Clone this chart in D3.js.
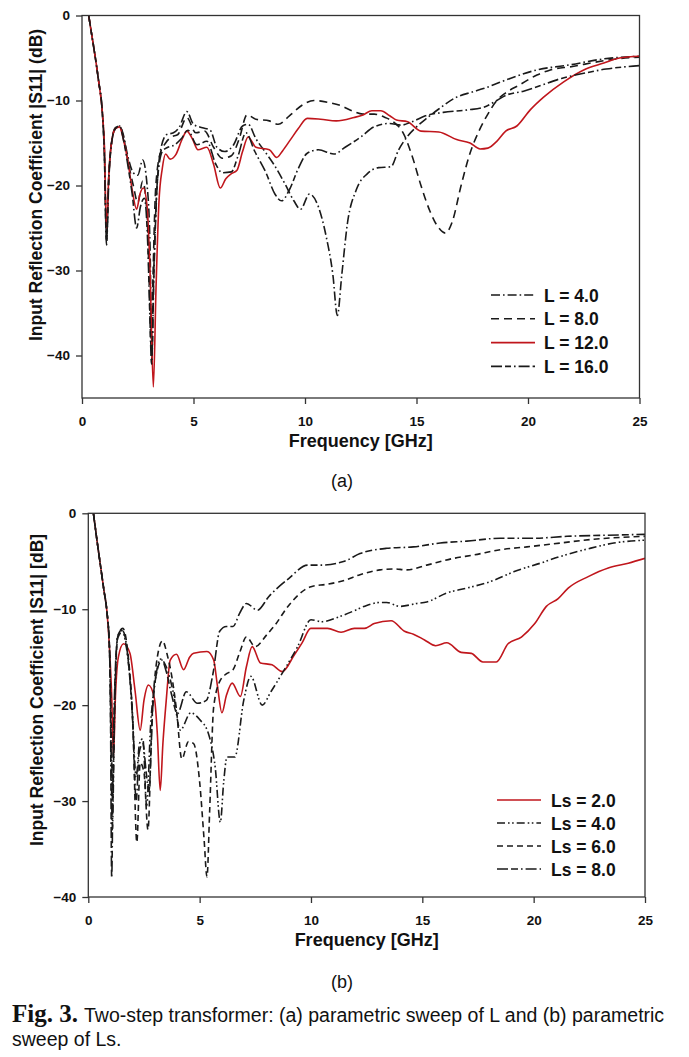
<!DOCTYPE html>
<html>
<head>
<meta charset="utf-8">
<script src="https://cdn.jsdelivr.net/npm/d3@7"></script>
<style>
  body { margin: 0; background: #fff; }
  text { font-family: "Liberation Sans", Arial, sans-serif; }
</style>
</head>
<body>
<div id="chart"></div>
<script>
const WIDTH = 689;
const HEIGHT = 1057;

// ---- data: [frequency GHz, |S11| dB] ----
const FREQ_TICKS = [0, 5, 10, 15, 20, 25];
const DB_TICKS = [0, -10, -20, -30, -40];

const L4 = [[0.3,0],[0.45,-2.5],[0.6,-5],[0.75,-7.8],[0.9,-11],[1.0,-16],[1.1,-26.5],[1.2,-19],[1.35,-14.5],[1.5,-13.2],[1.68,-13.0],[1.85,-14],[2.05,-16.5],[2.3,-18.5],[2.5,-18.8],[2.72,-17.0],[2.92,-20],[3.05,-27],[3.13,-40.5],[3.22,-31],[3.35,-21],[3.55,-15.5],[3.8,-14],[4.1,-13.8],[4.35,-13.2],[4.7,-11.3],[5.0,-12.8],[5.4,-13.2],[5.75,-13.5],[6.05,-15.5],[6.4,-16],[6.8,-15.2],[7.2,-13],[7.45,-12.8],[7.8,-14.5],[8.2,-16],[8.6,-17.5],[9.1,-19.8],[9.5,-21.8],[9.8,-22.8],[10.2,-21],[10.6,-22.5],[10.95,-26],[11.25,-30.5],[11.45,-35.3],[11.65,-30.5],[11.9,-24.5],[12.3,-20.5],[12.8,-18.6],[13.3,-17.9],[13.85,-17.8],[14.2,-15.8],[14.6,-14.2],[15.0,-13.1],[15.5,-12],[16.0,-11.0],[16.8,-9.6],[17.5,-9.0],[18.0,-8.6],[19.2,-7.4],[20.4,-6.4],[21.9,-5.8],[23.4,-5.1],[25,-4.8]];

const L8 = [[0.3,0],[0.45,-2.5],[0.6,-5],[0.75,-7.8],[0.9,-11],[1.0,-15.5],[1.1,-26],[1.2,-19],[1.35,-14.5],[1.5,-13.3],[1.68,-13.0],[1.85,-14.2],[2.05,-17],[2.3,-20],[2.5,-22],[2.72,-19.5],[2.92,-23.5],[3.02,-32],[3.1,-39],[3.18,-31],[3.3,-20.5],[3.5,-16.3],[3.75,-15],[4.0,-14.3],[4.3,-14.0],[4.7,-12.0],[5.1,-13.8],[5.5,-13.6],[5.9,-15.5],[6.3,-16.8],[6.7,-16.5],[7.05,-14.5],[7.4,-11.7],[7.8,-12.2],[8.4,-12.4],[8.8,-12.8],[9.3,-11.8],[9.9,-10.5],[10.4,-10.0],[11.0,-10.2],[11.6,-10.6],[12.1,-11.2],[12.6,-11.6],[13.1,-11.6],[13.6,-12.0],[14.0,-12.6],[14.4,-13.8],[14.8,-16.5],[15.2,-20.0],[15.6,-23.0],[16.0,-25.0],[16.3,-25.6],[16.6,-24.3],[17.0,-20.0],[17.4,-16.2],[17.8,-13.6],[18.2,-11.6],[18.6,-10.0],[19.0,-9.1],[19.6,-8.2],[20.4,-7.0],[21.0,-6.4],[22,-6.0],[23,-5.5],[24,-5.1],[25,-4.9]];

const L12 = [[0.3,0],[0.45,-2.5],[0.6,-5],[0.75,-7.8],[0.9,-11],[1.0,-15],[1.1,-25],[1.2,-19],[1.35,-14.5],[1.5,-13.3],[1.68,-13.1],[1.85,-14.5],[2.05,-17],[2.25,-20.5],[2.45,-22.8],[2.6,-21],[2.75,-20.3],[2.92,-22.5],[3.05,-30],[3.2,-43.7],[3.32,-32],[3.45,-22],[3.6,-18],[3.75,-16.3],[3.95,-16.9],[4.2,-16.4],[4.5,-14.5],[4.7,-13.6],[4.95,-14.5],[5.2,-15.8],[5.6,-15.5],[5.9,-17.5],[6.2,-20.3],[6.45,-19.2],[6.7,-18.6],[6.95,-18.2],[7.2,-16],[7.45,-14.3],[7.8,-15.5],[8.4,-15.8],[8.73,-16.7],[9.0,-15.9],[9.35,-14.6],[9.7,-13.3],[10.1,-12.1],[10.7,-12.2],[11.4,-12.4],[12.2,-12.0],[12.6,-11.7],[13.0,-11.2],[13.4,-11.2],[13.8,-11.8],[14.1,-12.3],[14.6,-12.5],[15.2,-13.6],[16.0,-13.7],[16.8,-14.6],[17.4,-15.0],[17.85,-15.7],[18.2,-15.6],[18.6,-14.8],[19.0,-13.6],[19.5,-13.0],[20.1,-11.1],[20.7,-9.6],[21.6,-7.8],[22.5,-6.4],[23.4,-5.6],[24.1,-5.0],[25,-4.8]];

const L16 = [[0.3,0],[0.45,-2.5],[0.6,-5],[0.75,-7.8],[0.9,-11],[1.0,-16],[1.1,-27],[1.2,-19.5],[1.35,-14.6],[1.5,-13.3],[1.68,-13.0],[1.85,-14.5],[2.05,-17.5],[2.25,-21],[2.45,-25],[2.62,-22.5],[2.8,-21.5],[2.95,-27],[3.05,-36],[3.12,-41],[3.22,-30],[3.38,-19.5],[3.6,-16],[3.85,-15.5],[4.1,-15.3],[4.45,-14.5],[4.75,-13.5],[5.15,-15.2],[5.6,-14.8],[6.0,-17.5],[6.3,-18.5],[6.7,-18.4],[7.0,-16.5],[7.35,-13.8],[7.75,-16],[8.25,-18.5],[8.65,-21],[8.95,-21.8],[9.3,-20.5],[9.7,-18],[10.1,-16.2],[10.6,-15.8],[11.3,-16.3],[11.8,-15.5],[12.5,-14.3],[13.1,-13.1],[13.8,-12.7],[14.3,-12.9],[14.8,-12.5],[15.4,-11.8],[16.2,-11.4],[17.3,-11.1],[18.0,-10.8],[18.6,-10.0],[19.0,-9.4],[19.8,-8.9],[20.5,-8.3],[21.5,-7.4],[22.5,-6.8],[23.5,-6.3],[24.5,-6.0],[25,-5.9]];

const LS2 = [[0.23,0],[0.4,-3],[0.55,-5.5],[0.7,-8],[0.83,-10.1],[0.95,-14],[1.05,-19],[1.13,-25.4],[1.22,-19],[1.35,-15],[1.58,-13.6],[1.87,-14.6],[2.1,-18.5],[2.33,-22.6],[2.5,-19.5],[2.7,-17.9],[2.97,-19.3],[3.1,-23],[3.23,-28.9],[3.35,-24],[3.5,-19.5],[3.68,-15.3],[3.96,-14.7],[4.28,-16.3],[4.55,-15],[4.73,-14.6],[5.33,-14.4],[5.63,-15.3],[5.8,-18],[6.0,-20.8],[6.2,-19],[6.46,-17.7],[6.83,-19.1],[7.1,-16],[7.36,-13.9],[7.73,-15.6],[8.25,-15.8],[8.71,-16.5],[9.24,-14.8],[9.6,-13.5],[9.99,-12.0],[10.74,-12.0],[11.35,-12.4],[11.95,-12.0],[12.4,-12.0],[12.84,-11.5],[13.6,-11.2],[14.2,-12.3],[14.6,-12.6],[15.1,-13.2],[15.6,-13.8],[16.1,-13.5],[16.74,-14.5],[17.2,-14.6],[17.72,-15.5],[18.32,-15.5],[18.85,-13.6],[19.45,-12.9],[20.05,-11.5],[20.57,-9.7],[21.1,-8.9],[21.55,-7.8],[22.45,-6.6],[23.35,-5.7],[24.25,-5.2],[25,-4.7]];

const LS4 = [[0.23,0],[0.4,-3],[0.55,-5.5],[0.7,-8],[0.83,-10.1],[0.95,-14],[1.02,-24],[1.08,-33],[1.17,-22],[1.3,-13],[1.48,-12.2],[1.7,-13.8],[1.95,-19.5],[2.15,-27.5],[2.3,-24],[2.45,-23.5],[2.62,-30.5],[2.8,-22],[3.0,-17.5],[3.25,-15.2],[3.5,-16],[3.8,-18.5],[4.13,-22.6],[4.6,-20.8],[5.0,-21.5],[5.4,-23],[5.7,-26.5],[5.93,-32.2],[6.08,-28],[6.23,-25.4],[6.58,-25.4],[6.98,-19.5],[7.3,-17.0],[7.81,-20.0],[8.2,-18.6],[8.78,-16.4],[9.4,-13.9],[10.0,-11.1],[10.5,-11.3],[11.25,-10.8],[12.0,-10.1],[12.5,-9.6],[13.1,-9.3],[13.4,-9.3],[14.0,-9.7],[14.75,-9.4],[15.2,-9.25],[16.1,-8.3],[17.0,-7.8],[18.2,-7.0],[19.1,-6.1],[20.3,-5.2],[21.2,-4.5],[22.45,-3.7],[23.6,-3.1],[25,-2.8]];

const LS6 = [[0.23,0],[0.4,-3],[0.55,-5.5],[0.7,-8],[0.83,-10.1],[0.95,-14],[1.03,-22],[1.09,-30],[1.18,-20],[1.33,-12.8],[1.55,-12.0],[1.75,-14],[2.0,-22],[2.18,-34.3],[2.33,-26],[2.5,-27],[2.68,-33],[2.85,-22],[3.1,-15],[3.33,-13.3],[3.55,-14.8],[3.75,-17],[3.96,-20.5],[4.2,-25.6],[4.5,-23.8],[4.73,-24.0],[5.0,-28],[5.2,-34],[5.33,-37.9],[5.45,-31],[5.63,-20.2],[5.93,-17.4],[6.23,-16.7],[6.5,-16.3],[6.8,-14.5],[7.1,-12.9],[7.5,-13.9],[8.0,-12.7],[8.4,-11.6],[9.0,-9.6],[10.0,-7.65],[10.7,-7.4],[11.5,-7.0],[12.2,-6.4],[13.1,-5.9],[13.7,-5.8],[14.3,-5.9],[15.2,-5.4],[16.4,-4.7],[17.3,-4.35],[18.5,-3.8],[19.7,-3.5],[21.2,-3.1],[22.7,-2.7],[24,-2.5],[25,-2.4]];

const LS8 = [[0.23,0],[0.4,-3],[0.55,-5.5],[0.7,-8],[0.83,-10.1],[0.95,-14],[1.0,-22],[1.05,-38],[1.12,-25],[1.22,-16],[1.32,-13],[1.55,-12.3],[1.8,-15.5],[2.0,-22],[2.15,-30],[2.28,-25],[2.45,-24],[2.6,-27],[2.72,-29],[2.9,-20],[3.1,-16.3],[3.3,-15.3],[3.5,-16.5],[3.75,-19],[4.0,-20.9],[4.4,-18.6],[4.9,-19.8],[5.3,-19.5],[5.6,-16.7],[5.9,-12.3],[6.2,-11.8],[6.5,-11.8],[6.8,-10.4],[7.1,-9.4],[7.6,-10.1],[8.1,-8.7],[9.0,-6.8],[9.85,-5.4],[10.45,-5.4],[11.5,-5.0],[12.2,-4.2],[13.4,-3.65],[14.6,-3.5],[15.8,-3.1],[17,-2.9],[18.5,-2.6],[20,-2.6],[21.5,-2.4],[23,-2.3],[25,-2.2]];

const RED = "#c0161c";
const INK = "#1a1a1a";

let svg = d3.select("#chart")
    .append("svg")
    .attr("width", WIDTH)
    .attr("height", HEIGHT);

svg.append("rect")
    .attr("width", WIDTH)
    .attr("height", HEIGHT)
    .attr("fill", "#fff");

function drawPanel(p) {
    let x = d3.scaleLinear().domain([0, 25]).range([p.left, p.right]);
    let y = d3.scaleLinear().domain([p.yMin, 0]).range([p.bottom, p.top]);

    let g = svg.append("g").attr("class", "panel-" + p.id);

    g.append("clipPath")
        .attr("id", "clip-" + p.id)
        .append("rect")
        .attr("x", p.left)
        .attr("y", p.top - 1)
        .attr("width", p.right - p.left)
        .attr("height", p.bottom - p.top + 1);

    let line = d3.line()
        .x(d => x(d[0]))
        .y(d => y(d[1]))
        .curve(d3.curveMonotoneX);

    g.selectAll("path.curve")
        .data(p.series)
        .enter()
        .append("path")
        .attr("class", "curve")
        .attr("clip-path", `url(#clip-${p.id})`)
        .attr("d", d => line(d.values))
        .attr("fill", "none")
        .attr("stroke", d => d.color)
        .attr("stroke-width", 1.6)
        .attr("stroke-linejoin", "round")
        .attr("stroke-dasharray", d => d.dash);

    // frame
    g.append("rect")
        .attr("x", p.left)
        .attr("y", p.top)
        .attr("width", p.right - p.left)
        .attr("height", p.bottom - p.top)
        .attr("fill", "none")
        .attr("stroke", "#333")
        .attr("stroke-width", 1.3);

    let xAxis = g.append("g")
        .attr("transform", `translate(0,${p.bottom})`)
        .call(d3.axisBottom(x).tickValues(FREQ_TICKS).tickSize(6).tickPadding(12).tickFormat(d3.format("d")));

    let yAxis = g.append("g")
        .attr("transform", `translate(${p.left},0)`)
        .call(d3.axisLeft(y).tickValues(DB_TICKS).tickSize(6).tickPadding(6).tickFormat(d3.format("d")));

    [xAxis, yAxis].forEach(a => {
        a.select(".domain").remove();
        a.selectAll(".tick line").attr("stroke", "#333").attr("stroke-width", 1.3);
        a.selectAll(".tick text")
            .attr("fill", "#111")
            .style("font-family", "'Liberation Sans', Arial, sans-serif")
            .style("font-weight", "bold")
            .style("font-size", "13.5px");
    });

    g.append("text")
        .attr("x", (p.left + p.right) / 2)
        .attr("y", p.bottom + 49)
        .attr("text-anchor", "middle")
        .attr("fill", "#111")
        .style("font-weight", "bold")
        .style("font-size", "18px")
        .text("Frequency [GHz]");

    g.append("text")
        .attr("transform", `translate(${p.yLabelX},${p.yLabelY}) rotate(-90)`)
        .attr("text-anchor", "middle")
        .attr("fill", "#111")
        .style("font-weight", "bold")
        .style("font-size", "17.5px")
        .text(p.yLabel);

    g.append("text")
        .attr("x", 342)
        .attr("y", p.tagY)
        .attr("text-anchor", "middle")
        .attr("fill", "#111")
        .style("font-size", "18px")
        .text(p.tag);

    // legend
    let legend = g.append("g")
        .attr("transform", `translate(${p.legendX},${p.legendY})`);

    p.series.forEach((s, i) => {
        let row = legend.append("g")
            .attr("transform", `translate(0,${i * p.legendStep})`);
        row.append("line")
            .attr("x1", 0)
            .attr("x2", 44)
            .attr("y1", 0)
            .attr("y2", 0)
            .attr("stroke", s.color)
            .attr("stroke-width", 1.6)
            .attr("stroke-dasharray", s.dash);
        row.append("text")
            .attr("x", p.legendTextDx)
            .attr("y", 6.5)
            .attr("fill", "#111")
            .style("font-weight", "bold")
            .style("font-size", "17.5px")
            .text(s.name);
    });
}

drawPanel({
    id: "a",
    left: 82, right: 639.5, top: 15.5, bottom: 398,
    yMin: -45,
    yLabel: "Input Reflection Coefficient |S11| (dB)",
    yLabelX: 42, yLabelY: 185,
    tag: "(a)", tagY: 487,
    legendX: 491, legendY: 295, legendStep: 23.8, legendTextDx: 53,
    series: [
        { name: "L = 4.0", values: L4, color: INK, dash: "9,3,1.6,3" },
        { name: "L = 8.0", values: L8, color: INK, dash: "8,5" },
        { name: "L = 12.0", values: L12, color: RED, dash: null },
        { name: "L = 16.0", values: L16, color: INK, dash: "11,3,6,3,1.6,3" }
    ]
});

drawPanel({
    id: "b",
    left: 88.3, right: 645, top: 513.3, bottom: 897,
    yMin: -40,
    yLabel: "Input Reflection Coefficient |S11| [dB]",
    yLabelX: 43, yLabelY: 690,
    tag: "(b)", tagY: 988,
    legendX: 497, legendY: 800, legendStep: 23, legendTextDx: 54,
    series: [
        { name: "Ls = 2.0", values: LS2, color: RED, dash: null },
        { name: "Ls = 4.0", values: LS4, color: INK, dash: "8,3,1.6,2.5,1.6,3" },
        { name: "Ls = 6.0", values: LS6, color: INK, dash: "6,4" },
        { name: "Ls = 8.0", values: LS8, color: INK, dash: "11,3,7,3,1.6,3" }
    ]
});

// caption
let caption = svg.append("text")
    .attr("x", 12)
    .attr("y", 1022)
    .attr("fill", "#111");
caption.append("tspan")
    .style("font-family", "'Liberation Serif', 'Times New Roman', serif")
    .style("font-weight", "bold")
    .style("font-size", "25px")
    .text("Fig. 3.");
caption.append("tspan")
    .attr("dx", 6)
    .style("font-size", "19.5px")
    .text("Two-step transformer: (a) parametric sweep of L and (b) parametric");

svg.append("text")
    .attr("x", 12)
    .attr("y", 1046)
    .attr("fill", "#111")
    .style("font-size", "19.5px")
    .text("sweep of Ls.");
</script>
</body>
</html>
